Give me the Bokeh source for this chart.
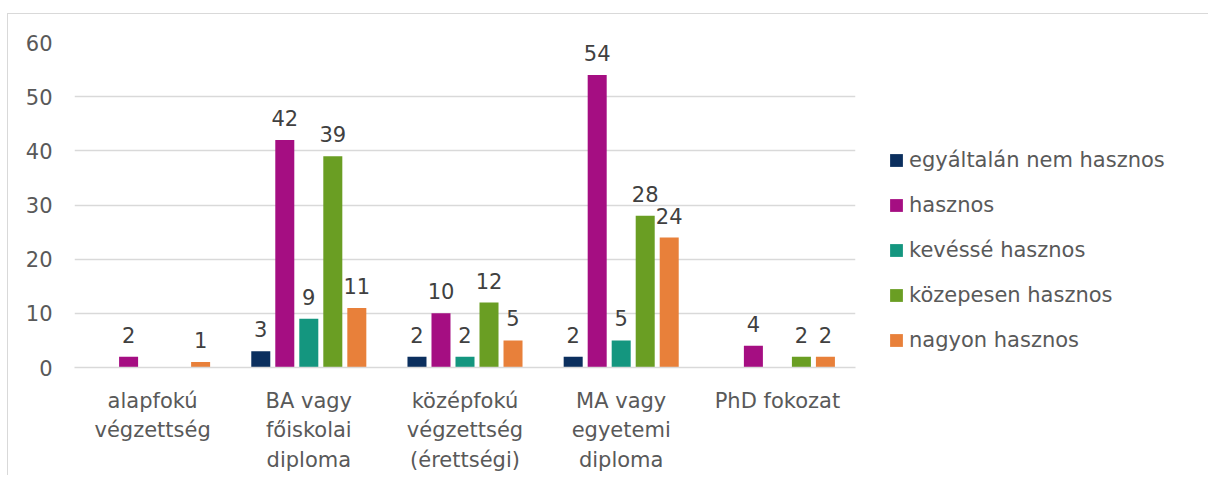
from bokeh.plotting import figure
from bokeh.models import (ColumnDataSource, FactorRange, Range1d, Legend, LegendItem,
                          SingleIntervalTicker)
from bokeh.transform import dodge
from bokeh.core.properties import value
from bokeh.embed import file_html
from bokeh.resources import INLINE

categories = ["alapfokú\nvégzettség", "BA vagy\nfőiskolai\ndiploma",
              "középfokú\nvégzettség\n(érettségi)", "MA vagy\negyetemi\ndiploma",
              "PhD fokozat"]
series_names = ["egyáltalán nem hasznos", "hasznos", "kevéssé hasznos",
                "közepesen hasznos", "nagyon hasznos"]
egyaltalan_nem = [0, 3, 2, 2, 0]
hasznos = [2, 42, 10, 54, 4]
kevesse = [0, 9, 2, 5, 0]
kozepesen = [0, 39, 12, 28, 2]
nagyon = [1, 11, 5, 24, 2]
colors = ["#0B2F5E", "#A50E82", "#14967F", "#6A9E23", "#E8803A"]

FONT = "DejaVu Sans"
TXT = "#595959"
FS = "21px"

p = figure(x_range=FactorRange(*categories), y_range=Range1d(0, 60),
           frame_width=781, frame_height=325,
           output_backend="svg", toolbar_location=None,
           min_border_left=66, min_border_top=28, min_border_bottom=108,
           min_border_right=10,
           styles={"margin-left": "7px", "margin-top": "13px",
                   "border-top": "1px solid #d9d9d9",
                   "border-left": "1px solid #d9d9d9"})
p.outline_line_color = None
p.xgrid.grid_line_color = None
p.ygrid.grid_line_color = "#d9d9d9"
p.ygrid.grid_line_width = 1.3

p.yaxis.ticker = SingleIntervalTicker(interval=10)
p.yaxis.axis_line_color = None
p.yaxis.major_tick_line_color = None
p.yaxis.minor_tick_line_color = None
p.yaxis.major_label_standoff = 16
p.yaxis.major_label_text_font = FONT
p.yaxis.major_label_text_font_size = FS
p.yaxis.major_label_text_color = TXT

p.xaxis.axis_line_color = "#d9d9d9"
p.xaxis.axis_line_width = 1.5
p.xaxis.major_tick_line_color = None
p.xaxis.minor_tick_line_color = None
p.xaxis.major_label_standoff = 15
p.xaxis.major_label_text_font = FONT
p.xaxis.major_label_text_font_size = FS
p.xaxis.major_label_text_color = TXT
p.xaxis.major_label_text_line_height = 1.23

all_series = [egyaltalan_nem, hasznos, kevesse, kozepesen, nagyon]
step = 0.1537
bar_w = 0.1217
items = []
for i, (name, vals, col) in enumerate(zip(series_names, all_series, colors)):
    off = (i - 2) * step
    src = ColumnDataSource(dict(cat=categories, val=vals))
    r = p.vbar(x=dodge("cat", off, range=p.x_range), top="val", width=bar_w,
               source=src, fill_color=col, line_color=None)
    items.append(LegendItem(label=name, renderers=[r]))
    lc = [c for c, v in zip(categories, vals) if v > 0]
    lv = [v for v in vals if v > 0]
    lsrc = ColumnDataSource(dict(cat=lc, val=lv, txt=[str(v) for v in lv]))
    p.text(x=dodge("cat", off, range=p.x_range), y="val", text="txt", source=lsrc,
           text_align="center", text_baseline="alphabetic", y_offset=-22,
           text_font=value(FONT), text_font_size=FS, text_color="#404040")

legend = Legend(items=items, location=(33, 15), orientation="vertical",
                label_text_font=FONT, label_text_font_size=FS,
                label_text_color=TXT, glyph_width=16, glyph_height=16,
                label_height=25, spacing=20, padding=0, margin=0,
                label_standoff=5, background_fill_alpha=0,
                border_line_color=None)
p.add_layout(legend, "right")

open("out.html", "w").write(file_html(p, INLINE))
